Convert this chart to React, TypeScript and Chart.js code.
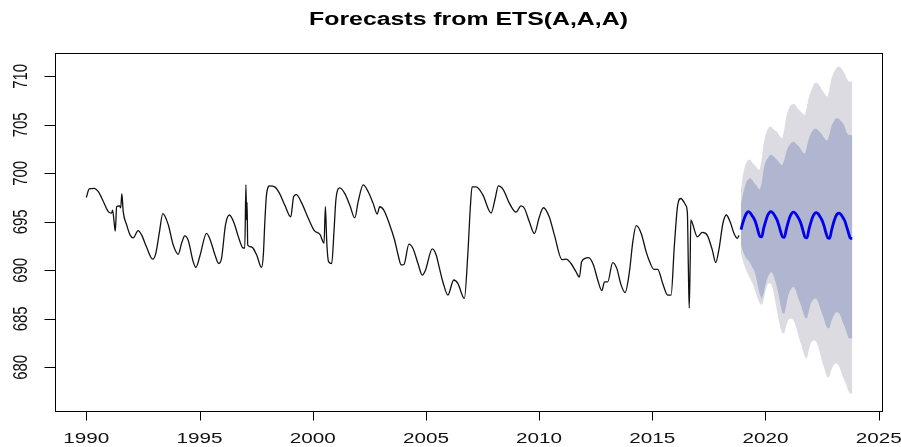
import React, { useEffect, useRef } from "react";
import { Chart, registerables } from "chart.js";

Chart.register(...registerables);

// Observed series (decimal year, value)
const histYears = [
  1990.0, 1990.13, 1990.34, 1990.53, 1990.75, 1990.97, 1991.12, 1991.16, 1991.24, 1991.28,
  1991.34, 1991.46, 1991.52, 1991.57, 1991.63, 1991.78, 1991.93, 1992.07, 1992.29, 1992.44,
  1992.66, 1992.93, 1993.07, 1993.22, 1993.38, 1993.62, 1993.84, 1994.06, 1994.21, 1994.35,
  1994.5, 1994.72, 1994.84, 1995.02, 1995.31, 1995.5, 1995.68, 1995.85, 1995.97, 1996.15,
  1996.32, 1996.53, 1996.71, 1996.93, 1997.0, 1997.05, 1997.08, 1997.1, 1997.13, 1997.3,
  1997.52, 1997.74, 1997.82, 1997.88, 1997.96, 1998.1, 1998.32, 1998.54, 1998.77, 1999.03,
  1999.16, 1999.28, 1999.5, 1999.8, 2000.07, 2000.32, 2000.5, 2000.56, 2000.62, 2000.7,
  2000.84, 2000.94, 2001.03, 2001.2, 2001.42, 2001.64, 2001.86, 2002.01, 2002.23, 2002.45,
  2002.67, 2002.85, 2002.96, 2003.14, 2003.4, 2003.62, 2003.77, 2003.91, 2004.03, 2004.25,
  2004.43, 2004.65, 2004.84, 2004.98, 2005.28, 2005.45, 2005.6, 2005.75, 2005.97, 2006.23,
  2006.41, 2006.7, 2006.85, 2006.96, 2007.04, 2007.22, 2007.51, 2007.88, 2008.06, 2008.2,
  2008.42, 2008.69, 2008.98, 2009.2, 2009.35, 2009.57, 2009.79, 2010.01, 2010.19, 2010.45,
  2010.68, 2011.01, 2011.19, 2011.41, 2011.63, 2011.78, 2011.88, 2012.19, 2012.4, 2012.59,
  2012.77, 2012.89, 2013.03, 2013.25, 2013.43, 2013.62, 2013.8, 2013.99, 2014.14, 2014.29,
  2014.51, 2014.73, 2014.88, 2015.07, 2015.24, 2015.46, 2015.68, 2015.83, 2015.97, 2016.12,
  2016.26, 2016.48, 2016.55, 2016.59, 2016.63, 2016.67, 2016.7, 2016.77, 2016.99, 2017.21,
  2017.43, 2017.65, 2017.8, 2017.94, 2018.12, 2018.27, 2018.46, 2018.61, 2018.76, 2018.83,
];

const histValues = [
  697.5, 698.4, 698.45, 698.1, 697.1, 696.05, 695.9, 696.2, 694.7, 694.05,
  696.55, 696.65, 696.45, 697.9, 696.05, 694.7, 693.65, 693.35, 694.1, 693.65,
  692.4, 691.15, 691.75, 693.8, 695.85, 694.7, 692.6, 691.65, 692.8, 693.55,
  693.1, 690.9, 690.3, 691.5, 693.8, 692.95, 691.6, 690.7, 691.2, 694.7,
  695.7, 694.85, 693.5, 692.3, 692.3, 698.8, 695.2, 697.0, 692.6, 692.4,
  691.6, 690.3, 691.6, 694.7, 697.8, 698.7, 698.6, 697.9, 696.7, 695.5,
  697.6, 697.8, 697.0, 695.4, 694.1, 693.7, 692.8, 696.55, 692.95, 690.9,
  690.7, 694.0, 697.4, 698.5, 697.9, 696.7, 695.4, 697.1, 698.8, 698.1,
  696.9, 695.8, 696.55, 696.2, 694.7, 693.1, 691.6, 690.55, 690.6, 692.7,
  692.25, 690.7, 689.5, 690.0, 692.2, 691.6, 690.2, 688.8, 687.45, 689.0,
  688.65, 687.1, 691.6, 696.4, 698.6, 698.6, 697.8, 695.9, 697.4, 698.7,
  698.3, 696.9, 696.0, 696.65, 696.4, 695.0, 693.8, 695.5, 696.45, 695.5,
  693.6, 691.1, 691.15, 690.7, 689.85, 689.3, 690.9, 691.3, 690.55, 689.0,
  687.9, 688.8, 688.8, 690.8, 690.2, 688.5, 687.7, 689.85, 692.95, 694.6,
  693.8, 691.9, 690.9, 690.1, 690.1, 688.65, 687.45, 687.45, 692.4, 696.7,
  697.4, 696.7, 695.9, 690.7, 686.1, 690.4, 695.2, 694.85, 693.45, 693.9,
  693.6, 692.1, 690.8, 692.1, 694.85, 695.7, 694.85, 693.8, 693.3, 693.6,
];

// Monthly forecast, Dec 2018 .. Nov 2023
const fcStartYear = 2018;
const fcStartMonth = 12;
const fcMean = [
  694.2, 694.9, 695.5, 695.9, 696.05, 695.9, 695.6, 695.3, 694.8, 694.1, 693.5, 693.45,
  694.3, 695.0, 695.6, 695.95, 696.05, 695.9, 695.6, 695.25, 694.7, 694.0, 693.45, 693.4,
  694.2, 694.95, 695.55, 695.9, 696.0, 695.85, 695.55, 695.2, 694.7, 694.0, 693.4, 693.35,
  694.2, 694.9, 695.5, 695.85, 695.95, 695.8, 695.5, 695.15, 694.6, 693.9, 693.35, 693.3,
  694.1, 694.85, 695.45, 695.8, 695.9, 695.75, 695.45, 695.1, 694.5, 693.85, 693.3, 693.3,
];
const fcHi80 = [
  696.9, 697.8, 698.6, 699.2, 699.4, 699.5, 699.3, 699.0, 698.8, 698.5, 698.3, 699.0,
  700.4, 701.2, 701.5, 701.8, 701.9, 701.8, 701.6, 701.4, 701.2, 700.9, 700.85, 701.4,
  702.2, 702.7, 703.0, 703.2, 703.25, 703.1, 702.9, 702.7, 702.4, 702.1, 702.05, 702.8,
  703.6, 704.1, 704.4, 704.6, 704.6, 704.4, 704.2, 704.0, 703.7, 703.4, 703.4, 704.1,
  704.9, 705.3, 705.6, 705.7, 705.6, 705.4, 705.2, 704.8, 704.2, 703.95, 703.95, 703.9,
];
const fcLo80 = [
  692.6, 692.0, 691.5, 691.2, 691.0, 690.7, 690.3, 690.0, 689.3, 688.3, 687.5, 687.1,
  687.6, 688.5, 689.2, 689.6, 689.85, 689.6, 689.0, 688.3, 687.5, 686.4, 685.6, 685.5,
  686.4, 687.4, 687.9, 688.2, 688.3, 688.0, 687.3, 686.8, 686.3, 685.6, 685.1, 685.05,
  685.8, 686.6, 686.9, 687.1, 687.1, 686.7, 686.1, 685.5, 685.0, 684.3, 684.0, 684.1,
  684.8, 685.3, 685.6, 685.7, 685.6, 685.2, 684.6, 684.2, 683.6, 683.0, 683.0, 683.0,
];
const fcHi95 = [
  698.3, 699.8, 700.7, 701.2, 701.4, 701.4, 701.1, 700.9, 700.7, 700.4, 700.4, 701.5,
  703.0, 704.0, 704.5, 704.8, 704.8, 704.6, 704.4, 704.3, 704.0, 703.7, 703.6, 704.6,
  705.8, 706.5, 706.9, 707.1, 707.2, 707.0, 706.7, 706.5, 706.3, 706.1, 706.0, 706.9,
  707.9, 708.4, 708.9, 709.3, 709.35, 709.2, 708.95, 708.6, 708.3, 708.0, 707.9, 708.8,
  709.8, 710.3, 710.7, 710.95, 711.0, 710.9, 710.6, 710.3, 709.8, 709.5, 709.45, 709.4,
];
const fcLo95 = [
  691.75, 691.0, 690.4, 689.9, 689.5, 689.1, 688.7, 688.2, 687.6, 687.0, 686.6, 686.4,
  686.9, 687.9, 688.5, 688.7, 688.6, 688.0, 687.0, 685.9, 684.9, 684.0, 683.5, 683.5,
  684.3, 684.9, 685.0, 685.0, 684.8, 684.3, 683.6, 682.9, 682.3, 681.6, 681.0, 680.9,
  681.8, 682.5, 682.7, 682.8, 682.6, 682.1, 681.4, 680.6, 680.0, 679.3, 678.9, 679.1,
  679.8, 680.2, 680.4, 680.4, 680.1, 679.6, 679.0, 678.6, 678.1, 677.5, 677.3, 677.3,
];

const xTickLabels = [1990, 1995, 2000, 2005, 2010, 2015, 2020, 2025];
const yTickLabels = [680, 685, 690, 695, 700, 705, 710];
const chartTitle = "Forecasts from ETS(A,A,A)";

const W = 901;
const H = 447;
const STRETCH = 1.38; // horizontal widening of the lettering
const FONT = '"Liberation Sans", Arial, sans-serif';

const fcTime = fcMean.map((_, i) => fcStartYear + (fcStartMonth - 1 + i) / 12);
const pts = (xs: number[], ys: number[]) => ys.map((v, i) => ({ x: xs[i], y: v }));

const frame = {
  id: "baseFrame",
  afterDraw(chart: any) {
    const { ctx, chartArea: a, scales } = chart;
    const xs = scales.x;
    const ys = scales.y;
    ctx.save();
    ctx.strokeStyle = "#000";
    ctx.lineWidth = 1;
    const L = Math.round(a.left) + 0.5;
    const R = Math.round(a.right) + 0.5;
    const T = Math.round(a.top) + 0.5;
    const B = Math.round(a.bottom) + 0.5;
    ctx.strokeRect(L, T, R - L, B - T);

    ctx.fillStyle = "#111";
    // x axis
    ctx.beginPath();
    ctx.font = `15px ${FONT}`;
    ctx.textAlign = "center";
    ctx.textBaseline = "alphabetic";
    xTickLabels.forEach((t) => {
      const px = Math.round(xs.getPixelForValue(t)) + 0.5;
      ctx.moveTo(px, B);
      ctx.lineTo(px, B + 9);
    });
    ctx.stroke();
    xTickLabels.forEach((t) => {
      const px = xs.getPixelForValue(t);
      ctx.save();
      ctx.translate(px, 443);
      ctx.scale(STRETCH, 1);
      ctx.fillText(String(t), 0, 0);
      ctx.restore();
    });

    // y axis
    ctx.beginPath();
    yTickLabels.forEach((t) => {
      const py = Math.round(ys.getPixelForValue(t)) + 0.5;
      ctx.moveTo(L, py);
      ctx.lineTo(L - 11, py);
    });
    ctx.stroke();
    yTickLabels.forEach((t) => {
      const py = ys.getPixelForValue(t);
      ctx.save();
      ctx.translate(27, py);
      ctx.scale(STRETCH, 1);
      ctx.rotate(-Math.PI / 2);
      ctx.fillText(String(t), 0, 0);
      ctx.restore();
    });

    // title
    ctx.font = `bold 18px ${FONT}`;
    ctx.fillStyle = "#000";
    ctx.save();
    ctx.translate((a.left + a.right) / 2, 25);
    ctx.scale(STRETCH, 1);
    ctx.fillText(chartTitle, 0, 0);
    ctx.restore();
    ctx.restore();
  },
};

export default function App() {
  const ref = useRef<HTMLCanvasElement | null>(null);

  useEffect(() => {
    if (!ref.current) return;
    const bandLine = { borderWidth: 0, pointRadius: 0, tension: 0 };
    const chart = new Chart(ref.current, {
      type: "line",
      data: {
        datasets: [
          {
            label: "series",
            data: pts(histYears, histValues),
            borderColor: "#111",
            borderWidth: 1.3,
            pointRadius: 0,
            cubicInterpolationMode: "monotone",
            borderJoinStyle: "round",
            fill: false,
            order: 0,
          },
          {
            label: "forecast",
            data: pts(fcTime, fcMean),
            borderColor: "#0000EE",
            borderWidth: 2.8,
            pointRadius: 0,
            cubicInterpolationMode: "monotone",
            borderJoinStyle: "round",
            fill: false,
            order: 1,
          },
          {
            label: "hi80",
            data: pts(fcTime, fcHi80),
            ...bandLine,
            backgroundColor: "#B0B5D0",
            fill: "+1",
            order: 2,
          },
          { label: "lo80", data: pts(fcTime, fcLo80), ...bandLine, fill: false, order: 3 },
          {
            label: "hi95",
            data: pts(fcTime, fcHi95),
            ...bandLine,
            backgroundColor: "#DBDBE1",
            fill: "+1",
            order: 4,
          },
          { label: "lo95", data: pts(fcTime, fcLo95), ...bandLine, fill: false, order: 5 },
        ],
      },
      options: {
        responsive: false,
        animation: false,
        devicePixelRatio: 1,
        layout: { padding: { left: 55, top: 53, right: 19, bottom: 36 } },
        plugins: { legend: { display: false }, tooltip: { enabled: false }, title: { display: false } },
        scales: {
          x: { type: "linear", min: 1988.617, max: 2025.146, display: false },
          y: { type: "linear", min: 675.495, max: 712.402, display: false },
        },
      },
      plugins: [frame],
    } as any);
    return () => chart.destroy();
  }, []);

  return (
    <div style={{ position: "absolute", left: 0, top: 0, width: W, height: H, background: "#fff" }}>
      <canvas ref={ref} width={W} height={H} style={{ display: "block" }} />
    </div>
  );
}
